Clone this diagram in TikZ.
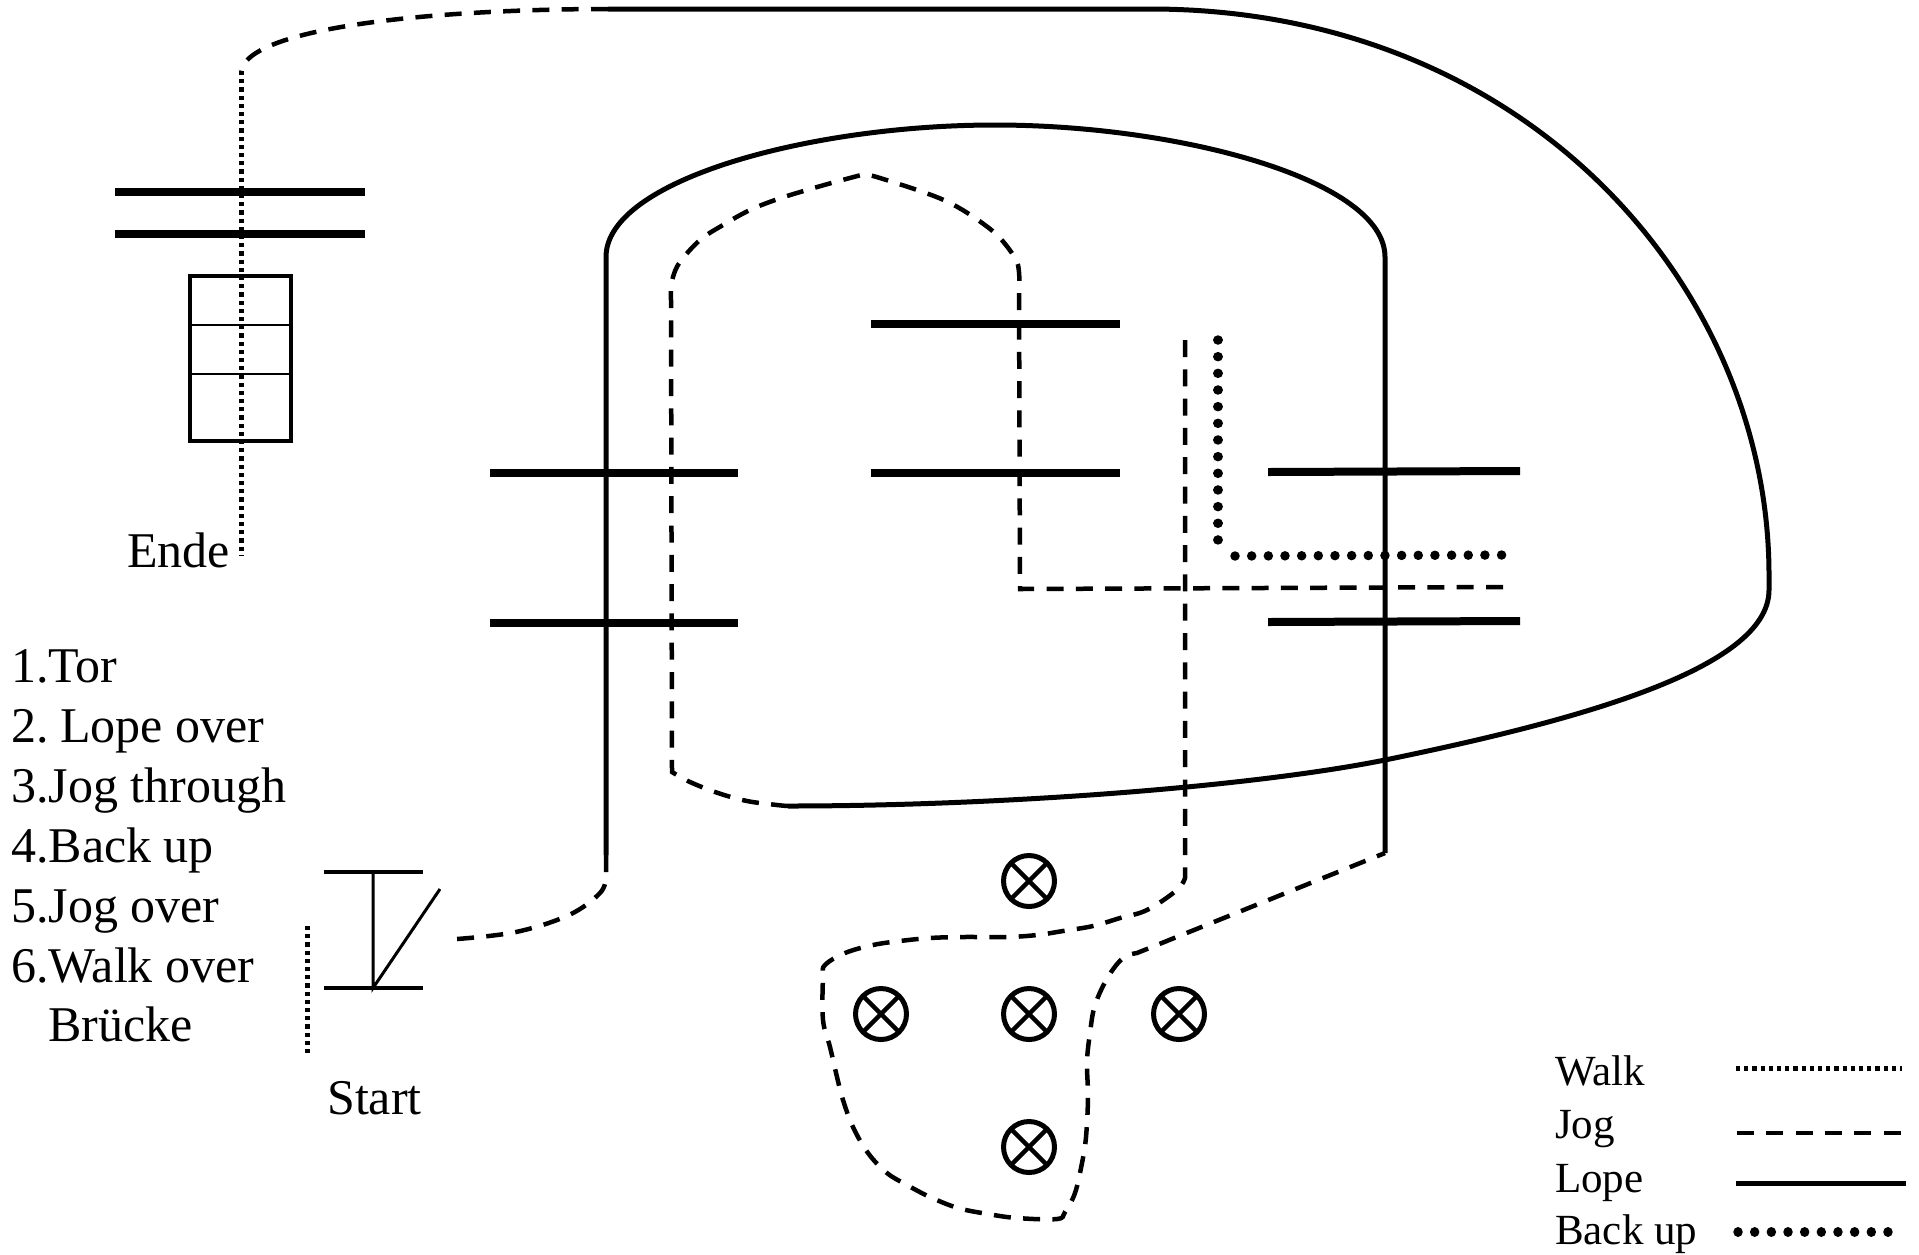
\documentclass[tikz,border=0pt]{standalone}
\usepackage{fontspec}
\setmainfont{Liberation Serif}
\tikzset{
  lope/.style={line width=5pt},
  jog/.style={line width=4.5pt,dash pattern=on 17pt off 12.3pt},
  walk/.style={line width=5pt,dash pattern=on 4.2pt off 4pt},
  backup/.style={line width=9.5pt,line cap=round,dash pattern=on 0.01pt off 16.65pt},
  gate/.style={line width=8pt},
  startbar/.style={line width=4.5pt},
  thin line/.style={line width=3pt},
  curve/.style={smooth,tension=0.6},
  txt/.style={anchor=base west,inner sep=0pt,font=\fontsize{50}{60}\selectfont},
  legend/.style={anchor=base west,inner sep=0pt,font=\fontsize{43}{50}\selectfont},
  cone/.style={circle,draw,line width=5pt,minimum size=51pt,inner sep=0pt,
    path picture={\draw[line width=4.5pt]
      (path picture bounding box.45)--(path picture bounding box.225)
      (path picture bounding box.135)--(path picture bounding box.315);}},
}
\begin{document}
\begin{tikzpicture}[x=1pt,y=-1pt]
\useasboundingbox (0,0) rectangle (1919,1254);
% gates
\draw[gate] (115,192)--(365,192) (115,234)--(365,234);
\draw[gate] (490,473)--(738,473) (490,623)--(738,623);
\draw[gate] (871,324)--(1120,324) (871,473)--(1120,473);
\draw[gate] (1268,472)--(1520,471) (1268,622)--(1520,621);
% gate box
\draw[line width=3.5pt] (190,276) rectangle (291,441);
\draw[line width=2.5pt] (190,325)--(291,325) (190,374)--(291,374);
% walk
\draw[walk] (241,71)--(241,556);
\draw[walk] (307,926)--(307,1055);
% start
\coordinate (s1) at (373,872);
\coordinate (s2) at (373,988);
\coordinate (s3) at (440,889);
\draw[startbar] (324,872)--(423,872) (324,988)--(423,988);
\draw[thin line] (s1)--(s2)--(s3);
% lope outer
\draw[lope] (608,9)--(1150,9) .. controls (1530,9) and (1769,290) .. (1769,575)
  -- (1769,590) .. controls (1769,670) and (1570,722) .. (1385,760)
  .. controls (1250,787) and (1000,806) .. (788,806);
\draw[jog] (608,9) .. controls (450,9) and (250,25) .. (241,71);
% lope inner
\draw[lope] (606,855)--(606,257) .. controls (606,180) and (810,125) .. (995,125)
  .. controls (1180,125) and (1385,180) .. (1385,257)--(1385,853);
% jog from start
\draw[jog] (606,855)--(606,877) -- plot[curve] coordinates {(606,877)(600,893)(569,915)(516,932)(457,939)};
% jog through
\draw[jog] (788,806) -- plot[curve] coordinates {(788,806)(777,805)(747,801)(718,793)(690,782)(672,772)} -- (671,300)
  -- plot[curve] coordinates {(671,300)(671,290)(673,277)(680,262)(700,240)(723,225)(750,210)(778,199)(807,190)(835,182)(865,174)};
\draw[jog] (1503,587)--(1020,589)--(1019,290) -- plot[curve] coordinates {(1019,290)(1019,272)(1015,258)(998,236)(975,218)(950,203)(923,192)(880,178)(865,174)};
% jog loop
\draw[jog] (1185,340)--(1185,878) -- plot[curve] coordinates {(1185,878)(1177,890)(1147,910)(1120,918)(1093,926)(1063,931)(1037,935)(1007,937)(963,937)(930,938)(900,941)(873,945)(845,953)(825,965)(823,977)(823,1020)(830,1047)(837,1077)(843,1100)(853,1127)(868,1153)(887,1173)(907,1185)(930,1197)(958,1208)(988,1214)(1017,1218)(1057,1219)(1065,1212)(1075,1193)(1082,1163)(1086,1137)(1088,1097)(1087,1062)(1090,1033)(1095,1005)(1108,977)(1123,958)(1137,953)} -- (1385,853);
% back up
\draw[backup] (1218,340)--(1218,541);
\draw[backup] (1235,556)--(1504,555);
% cones
\node[cone] (c1) at (1029,881) {};
\node[cone] (c2) at (881,1014) {};
\node[cone] (c3) at (1029,1014) {};
\node[cone] (c4) at (1179,1014) {};
\node[cone] (c5) at (1029,1147) {};
% texts
\node[txt] (ende) at (127,567) {Ende};
\node[txt] (t1) at (11,682) {1.Tor};
\node[txt] (t2) at (11,742) {2.\kern-5pt{} Lope over};
\node[txt] (t3) at (11,802) {3.Jog through};
\node[txt] (t4) at (11,862) {4.Back up};
\node[txt] (t5) at (11,922) {5.Jog over};
\node[txt] (t6) at (11,982) {6.Walk over};
\node[txt] (t7) at (48,1041) {Brücke};
\node[txt] (start) at (327,1114) {Start};
% legend
\node[legend] (lw) at (1555,1085) {Walk};
\node[legend] (lj) at (1555,1138) {Jog};
\node[legend] (ll) at (1555,1192) {Lope};
\node[legend] (lb) at (1555,1244) {Back up};
\draw[walk] (1736,1068)--(1902,1068);
\draw[jog] (1737,1133)--(1903,1133);
\draw[lope] (1736,1183)--(1906,1183);
\draw[backup] (1738,1232)--(1892,1232);
\end{tikzpicture}
\end{document}
